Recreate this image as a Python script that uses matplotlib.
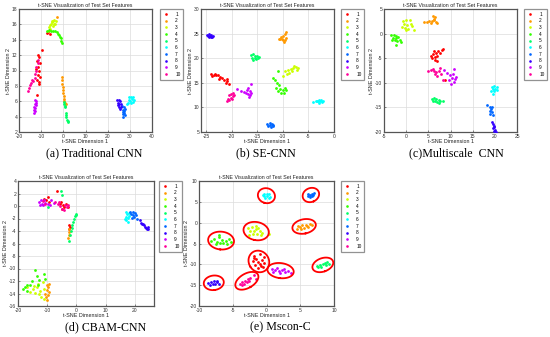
import colorsys
import numpy as np
import matplotlib
matplotlib.use('Agg')
import matplotlib.pyplot as plt
from matplotlib.lines import Line2D

plt.rcParams['font.family'] = ['Liberation Sans', 'DejaVu Sans']
plt.rcParams['axes.unicode_minus'] = False

W, H = 550, 337
class_labels = [str(i) for i in range(1, 11)]

# t-SNE points, one list per class (1..10)
cnn_pts = [
    [(-9.8, 12.7), (-11.6, 12.0), (-11.0, 11.7), (-11.8, 11.2), (-10.6, 11.0), (-11.4, 10.5), (-12.2, 10.2),
     (-10.9, 9.9), (-11.5, 9.4), (-10.7, 9.1), (-12.0, 8.8), (-11.2, 8.5), (-10.8, 8.2), (-12.0, 6.8),
     (-6.9, 15.0), (-6.2, 14.8), (-7.2, 14.9)],
    [(-0.8, 9.1), (-0.6, 8.7), (-0.5, 8.3), (-0.3, 7.9), (-0.2, 7.5), (0.0, 7.1), (0.2, 6.7), (0.3, 6.3),
     (0.5, 6.0), (1.2, 5.6), (0.8, 5.8), (-2.8, 16.9)],
    [(-6.5, 15.6), (-6.0, 15.9), (-5.5, 16.1), (-5.0, 16.3), (-4.5, 16.5), (-4.0, 16.6), (-3.5, 16.4),
     (-4.8, 15.8), (-5.8, 15.4), (-4.2, 16.1), (-3.8, 16.0), (-5.2, 16.4), (-6.8, 15.2)],
    [(-7.5, 15.2), (-6.5, 15.3), (-5.6, 15.2), (-4.6, 15.2), (-3.8, 15.1), (-3.0, 15.0), (-2.4, 14.8),
     (-1.9, 14.6), (-1.5, 14.4), (-1.1, 14.2), (-0.9, 13.9), (-0.6, 13.6)],
    [(0.3, 5.9), (0.5, 5.6), (0.6, 5.3), (1.0, 4.5), (1.1, 4.2), (1.3, 3.9), (1.6, 3.6), (1.9, 3.4),
     (2.2, 3.3), (0.8, 5.4)],
    [(29.8, 6.5), (30.5, 6.6), (31.3, 6.5), (31.8, 6.2), (31.5, 5.9), (30.6, 5.8), (30.0, 6.0), (29.6, 6.2),
     (31.0, 6.3), (28.6, 5.6), (29.2, 5.8)],
    [(26.6, 5.4), (27.4, 5.3), (27.8, 5.0), (27.1, 4.9), (26.7, 4.6), (27.5, 4.5), (27.0, 4.3), (27.6, 4.2),
     (26.8, 4.0), (27.3, 4.7)],
    [(24.4, 6.2), (25.0, 6.1), (25.6, 6.0), (24.6, 5.8), (25.3, 5.7), (24.5, 5.5), (25.8, 5.6), (25.1, 5.3),
     (25.9, 5.2), (25.5, 5.0)],
    [(-13.0, 6.2), (-12.5, 6.0), (-12.9, 5.7), (-12.2, 5.5), (-13.1, 5.3), (-12.6, 5.1), (-13.3, 4.9),
     (-12.8, 4.7), (-13.1, 4.5), (-12.3, 5.8)],
    [(-15.8, 7.3), (-15.4, 7.7), (-15.0, 8.1), (-14.5, 8.4), (-14.2, 8.7), (-13.5, 8.6), (-13.0, 9.0),
     (-12.8, 9.6), (-12.2, 10.0), (-12.5, 10.5), (-11.6, 11.4), (-11.3, 11.0)],
]

se_pts = [
    [(-24.1, 16.8), (-23.5, 16.6), (-23.0, 16.5), (-23.8, 16.3), (-22.6, 16.6), (-22.2, 16.2), (-21.8, 16.0),
     (-22.5, 15.8), (-21.5, 15.5), (-21.0, 15.3), (-20.9, 15.8), (-20.5, 14.7), (-21.2, 15.0), (-23.2, 16.8)],
    [(-10.8, 24.0), (-10.3, 24.3), (-9.9, 24.6), (-9.5, 25.0), (-9.3, 25.3), (-10.0, 23.8), (-9.6, 23.6),
     (-9.8, 23.3), (-10.2, 24.0), (-9.4, 24.2), (-10.5, 23.9)],
    [(-9.5, 17.4), (-9.0, 17.6), (-8.5, 17.8), (-8.0, 18.0), (-7.5, 18.3), (-7.0, 18.0), (-7.3, 17.6),
     (-8.2, 17.3), (-8.8, 17.0), (-9.2, 16.8), (-10.0, 16.3), (-7.8, 18.5)],
    [(-11.0, 17.3), (-11.5, 15.5), (-11.2, 15.0), (-10.8, 14.5), (-11.4, 14.0), (-10.5, 13.8), (-10.0, 13.5),
     (-9.6, 13.9), (-10.3, 13.0), (-9.8, 12.9), (-10.9, 13.3), (-9.4, 13.6), (-11.9, 15.9)],
    [(-16.2, 20.6), (-15.8, 20.8), (-15.4, 20.4), (-15.0, 20.5), (-14.7, 20.3), (-15.5, 20.0), (-16.0, 20.1),
     (-15.2, 19.8), (-15.8, 19.6), (-14.9, 20.1)],
    [(-4.1, 11.1), (-3.4, 11.2), (-3.0, 11.5), (-2.6, 11.6), (-2.2, 11.4), (-2.4, 11.0), (-2.9, 10.9),
     (-3.2, 11.3), (-2.7, 11.3), (-3.6, 11.4)],
    [(-13.1, 6.6), (-12.6, 6.8), (-12.2, 6.6), (-11.9, 6.2), (-12.4, 6.0), (-12.9, 6.2), (-12.5, 6.4),
     (-12.0, 6.5)],
    [(-24.8, 24.7), (-24.4, 24.9), (-24.0, 24.8), (-23.6, 24.5), (-24.0, 24.3), (-24.5, 24.4), (-24.2, 24.6),
     (-23.8, 24.4), (-24.7, 24.5)],
    [(-18.9, 13.7), (-18.1, 13.4), (-17.6, 13.2), (-17.0, 13.6), (-16.8, 13.9), (-16.5, 13.3), (-16.9, 12.8),
     (-16.4, 12.5), (-16.6, 12.1), (-16.2, 14.7), (-17.3, 13.0), (-16.3, 12.9)],
    [(-21.0, 11.3), (-20.6, 11.6), (-20.2, 12.0), (-19.8, 12.3), (-20.5, 12.5), (-20.1, 12.8), (-19.6, 12.6),
     (-20.8, 11.8), (-20.0, 11.7), (-19.8, 12.9)],
]

ms_pts = [
    [(5.6, -4.5), (6.0, -4.2), (6.4, -4.8), (6.8, -4.0), (7.0, -4.6), (7.2, -3.6), (7.6, -3.9), (8.0, -3.4),
     (8.3, -3.2), (6.5, -5.3), (7.0, -5.6), (6.2, -3.6), (8.7, -9.4), (5.8, -5.0)],
    [(4.0, 2.3), (4.6, 2.4), (5.2, 2.6), (5.8, 2.5), (6.2, 2.8), (6.5, 3.3), (6.0, 3.6), (6.8, 2.3),
     (7.0, 2.1), (5.5, 2.2), (6.3, 3.0)],
    [(-0.8, 2.6), (0.0, 2.7), (0.8, 2.8), (-0.5, 2.0), (0.3, 1.8), (1.0, 2.0), (-0.2, 1.2), (0.5, 1.0),
     (1.8, 0.8), (0.0, 0.7), (1.3, 1.5), (-1.0, 1.4)],
    [(-3.4, -0.3), (-2.8, -0.2), (-2.2, -0.4), (-3.0, -0.8), (-2.4, -0.9), (-1.8, -0.6), (-2.6, -1.4),
     (-1.4, -1.2), (-2.0, -1.6), (-1.2, -1.8), (-2.2, -2.3), (-3.2, -1.2)],
    [(5.8, -13.2), (6.3, -13.0), (6.8, -13.3), (7.3, -13.5), (6.5, -13.7), (7.0, -14.0), (7.6, -13.8),
     (6.1, -13.6), (8.2, -13.6), (7.4, -14.1)],
    [(19.3, -10.8), (19.8, -10.7), (20.4, -10.9), (19.5, -11.3), (20.1, -11.2), (20.6, -11.5), (19.2, -11.6),
     (19.9, -11.7), (19.6, -12.2)],
    [(18.3, -14.6), (18.8, -14.9), (19.2, -15.3), (18.9, -15.7), (19.4, -16.0), (19.0, -16.4), (19.6, -16.6),
     (19.3, -15.0)],
    [(19.3, -17.9), (19.5, -18.4), (19.8, -18.8), (19.6, -19.2), (20.0, -19.5), (19.7, -19.8), (20.2, -19.9),
     (19.9, -19.0)],
    [(8.6, -7.4), (9.3, -8.0), (9.8, -8.5), (10.3, -9.0), (10.6, -8.3), (11.0, -9.2), (10.8, -9.8),
     (10.2, -10.2), (11.3, -8.8), (10.7, -7.2), (9.6, -9.4)],
    [(5.0, -7.6), (5.6, -7.4), (6.2, -7.5), (6.8, -7.8), (7.4, -7.6), (6.5, -8.2), (7.0, -8.6), (7.8, -8.2),
     (6.0, -7.1), (7.6, -7.0), (8.4, -9.4)],
]

cbam_pts = [
    [(-11.0, 1.2), (-10.5, 0.9), (-9.8, 1.5), (-9.5, 0.6), (-6.8, 2.4), (-5.8, 0.4), (-5.2, 0.7), (-4.6, 0.2),
     (-4.2, -0.2), (-3.6, 0.3), (-3.0, -0.1), (-2.6, -3.1), (-2.2, -3.4), (-2.5, -3.7), (-5.0, -0.5)],
    [(-2.6, -3.6), (-2.4, -4.2), (-2.7, -4.6), (-2.8, -5.1), (-10.2, -12.7), (-9.6, -13.0), (-10.0, -13.5),
     (-9.4, -13.8), (-9.8, -14.2), (-10.4, -14.5), (-10.0, -15.0), (-9.3, -12.5), (-10.6, -14.0)],
    [(-16.8, -13.0), (-15.8, -13.8), (-15.0, -13.2), (-14.2, -13.9), (-13.5, -13.0), (-12.6, -13.6),
     (-12.0, -14.5), (-11.2, -13.2), (-11.6, -12.2), (-13.0, -12.4), (-14.6, -12.8), (-12.8, -14.1), (-11.0, -14.8)],
    [(-18.2, -13.3), (-17.5, -12.9), (-16.8, -13.6), (-16.0, -12.6), (-15.2, -12.0), (-14.2, -10.2),
     (-13.6, -11.2), (-12.8, -11.8), (-11.2, -10.8), (-10.6, -11.6), (-13.2, -12.6), (-17.0, -12.6)],
    [(-5.4, 2.4), (-4.8, 1.8), (-9.8, -0.2), (-0.2, -1.2), (-0.6, -1.6), (-1.0, -2.0), (-1.2, -2.6),
     (-1.6, -3.0), (-1.4, -3.5), (-2.0, -4.0), (-2.2, -4.6), (-2.6, -5.6), (-0.3, -1.4)],
    [(16.8, -1.0), (17.3, -1.3), (17.8, -1.1), (16.9, -1.7), (17.5, -1.9), (17.0, -2.3), (17.6, -2.5),
     (18.1, -1.6), (16.7, -2.0)],
    [(18.2, -1.0), (18.8, -1.2), (19.4, -0.9), (20.0, -1.1), (20.4, -1.5), (19.6, -1.8), (18.9, -1.9),
     (19.2, -1.4), (20.6, -2.0)],
    [(21.6, -2.3), (22.0, -2.7), (22.5, -2.9), (23.0, -3.1), (23.4, -3.3), (23.8, -3.5), (24.3, -3.7),
     (24.6, -3.4), (22.8, -2.9), (24.0, -3.6)],
    [(-12.8, 0.6), (-12.2, 0.9), (-11.8, 0.4), (-11.2, 1.0), (-10.6, 0.5), (-12.5, 0.2), (-9.8, 0.4),
     (-8.6, 0.9), (-7.8, 0.5), (-11.5, 0.2), (-9.0, 0.2)],
    [(-11.6, 0.8), (-10.8, 0.3), (-7.2, 0.7), (-6.4, 0.3), (-5.6, 0.0), (-4.8, -0.4), (-4.0, 0.1),
     (-3.4, -0.2), (-2.8, 0.2), (-4.4, -0.6), (-6.0, 0.6)],
]

mscon_pts = [
    [(-1.8, -8.0), (-1.0, -7.6), (-0.4, -8.2), (-1.5, -8.8), (-0.6, -8.9), (-2.0, -9.3), (-1.2, -9.5),
     (-0.3, -9.6), (-1.7, -10.1), (-0.8, -10.3), (-1.2, -10.9), (-0.5, -10.7), (-1.9, -8.5), (-0.9, -9.9)],
    [(4.5, -1.4), (4.9, -1.0), (5.3, -0.6), (5.6, -1.2), (6.0, -0.8), (6.4, -0.4), (6.8, -0.5), (5.1, -1.6),
     (5.8, -0.5), (6.2, -1.1), (4.7, -0.8)],
    [(-2.7, -1.2), (-2.1, -1.0), (-1.6, -0.9), (-1.2, -1.3), (-2.4, -2.0), (-1.8, -2.1), (-1.0, -1.9),
     (-0.6, -2.4), (-2.0, -2.7), (-1.4, -2.8), (-0.8, -2.9), (0.4, -2.6), (-2.6, -2.9), (-1.6, -1.6)],
    [(-8.2, -4.3), (-7.8, -3.8), (-7.3, -4.6), (-7.0, -3.4), (-6.6, -4.1), (-6.4, -4.8), (-6.0, -4.4),
     (-5.6, -3.9), (-5.8, -5.0), (-7.5, -5.2), (-6.9, -4.9), (-5.3, -4.6), (-7.1, -2.9)],
    [(7.5, -10.5), (7.9, -10.2), (8.3, -10.0), (8.6, -9.7), (9.0, -9.5), (8.1, -10.6), (8.8, -10.1),
     (9.2, -9.9), (7.7, -10.7)],
    [(-0.4, 6.9), (0.0, 7.0), (0.4, 6.8), (-0.3, 6.4), (0.1, 6.5), (0.5, 6.2), (-0.2, 6.0), (0.3, 5.9),
     (-0.5, 6.6)],
    [(6.1, 6.3), (6.4, 6.6), (6.7, 6.9), (7.0, 7.2), (6.5, 6.2), (6.9, 6.7), (6.2, 6.8), (6.8, 6.4)],
    [(-8.6, -14.5), (-8.2, -14.2), (-7.8, -14.0), (-7.4, -14.3), (-7.0, -14.6), (-7.6, -14.8), (-8.0, -14.7),
     (-7.3, -13.9), (-8.4, -14.9)],
    [(0.8, -11.0), (1.3, -11.3), (1.8, -11.6), (2.3, -11.4), (2.8, -11.8), (3.2, -11.6), (3.6, -12.0),
     (2.0, -12.1), (1.0, -11.9), (2.6, -11.1), (1.5, -10.8)],
    [(-3.9, -14.8), (-3.6, -14.2), (-3.2, -14.0), (-2.8, -13.6), (-2.4, -13.2), (-3.4, -14.6), (-2.9, -14.3),
     (-1.9, -12.5), (-1.6, -13.4), (-3.7, -15.0), (-2.6, -13.9)],
]

captions = ['(a) Traditional CNN', '(b) SE-CNN', '(c)Multiscale  CNN', '(d) CBAM-CNN', '(e) Mscon-C']

# MATLAB-style hsv(10) colours
colors = [colorsys.hsv_to_rgb(i / 10, 1, 1) for i in range(10)]

# layout in pixels: axes box (left, right, top, bottom), legend box (left, top), caption centre (x, y)
panels = [
    dict(pts=cnn_pts, xlim=(-20, 40), ylim=(2, 18), xt=range(-20, 41, 10), yt=range(2, 19, 2),
         box=(19, 152, 9, 132), leg=(160, 9), cap=(94, 153)),
    dict(pts=se_pts, xlim=(-26, 0), ylim=(5, 30), xt=range(-25, 1, 5), yt=range(5, 31, 5),
         box=(201, 334, 9, 132), leg=(341, 9), cap=(266, 153)),
    dict(pts=ms_pts, xlim=(-5, 25), ylim=(-20, 5), xt=range(-5, 26, 5), yt=range(-20, 6, 5),
         box=(384, 517, 9, 132), leg=(524, 9), cap=(456, 153)),
    dict(pts=cbam_pts, xlim=(-20, 26.5), ylim=(-16, 4), xt=range(-20, 21, 10), yt=range(-16, 5, 2),
         box=(18, 154, 181, 306), leg=(159, 181), cap=(106, 327)),
    dict(pts=mscon_pts, xlim=(-10, 10), ylim=(-20, 10), xt=range(-10, 11, 5), yt=range(-20, 11, 5),
         box=(199, 334, 181, 306), leg=(341, 181), cap=(280, 327)),
]


def ring(ax, pts):
    # ellipse around a cluster, fitted in pixel space so it looks round on screen
    p = np.array(pts)
    bb = ax.get_position()
    x0, x1 = ax.get_xlim()
    y0, y1 = ax.get_ylim()
    sx = bb.width * W / (x1 - x0)
    sy = bb.height * H / (y1 - y0)
    q = p * [sx, sy]
    c = q.mean(axis=0)
    vals, vecs = np.linalg.eigh(np.cov(q.T))
    r = 1.25 * np.sqrt(vals) + 5.5
    t = np.linspace(0, 2 * np.pi, 120)
    e = c + (vecs @ np.vstack([r[0] * np.cos(t), r[1] * np.sin(t)])).T
    ax.plot(e[:, 0] / sx, e[:, 1] / sy, color='red', lw=1.3, zorder=4)


fig = plt.figure(figsize=(W / 100, H / 100), dpi=100)
handles = [Line2D([], [], ls='none', marker='o', ms=1.9, mec='none', mfc=c) for c in colors]

for k, pn in enumerate(panels):
    l, r, t, b = pn['box']
    ax = fig.add_axes([l / W, 1 - b / H, (r - l) / W, (b - t) / H])
    for pts, col in zip(pn['pts'], colors):
        arr = np.array(pts)
        ax.scatter(arr[:, 0], arr[:, 1], s=4, color=col, marker='o', linewidths=0, zorder=3)
    ax.set_xlim(pn['xlim'])
    ax.set_ylim(pn['ylim'])
    ax.set_xticks(list(pn['xt']))
    ax.set_yticks(list(pn['yt']))
    ax.grid(True, color='#dcdcdc', lw=0.5)
    ax.set_axisbelow(True)
    ax.tick_params(direction='in', length=1.5, width=0.4, labelsize=3.6, pad=1.2, colors='#333333')
    for s in ax.spines.values():
        s.set_color('#555555')
        s.set_linewidth(0.9)
    ax.set_title('t-SNE Visualization of Test Set Features', fontsize=3.8, pad=1.5, color='#222222')
    ax.set_xlabel('t-SNE Dimension 1', fontsize=3.9, labelpad=0.5, color='#222222')
    ax.set_ylabel('t-SNE Dimension 2', fontsize=3.9, labelpad=0.5, color='#222222')
    if k == 4:
        for pts in pn['pts']:
            ring(ax, pts)
    lx, ly = pn['leg']
    leg = ax.legend(handles, class_labels, loc='upper left', bbox_to_anchor=(lx / W, 1 - ly / H),
                    bbox_transform=fig.transFigure, fontsize=3.4, frameon=True, fancybox=False,
                    borderpad=0.6, labelspacing=0.35, handlelength=1.2, handletextpad=1.4,
                    borderaxespad=0)
    leg.get_frame().set_edgecolor('#777777')
    leg.get_frame().set_linewidth(0.9)
    cx, cy = pn['cap']
    fig.text(cx / W, 1 - cy / H, captions[k], ha='center', va='center', fontsize=8.6,
             family=['Liberation Serif', 'DejaVu Serif'])

fig.savefig('out.png', dpi=100)
